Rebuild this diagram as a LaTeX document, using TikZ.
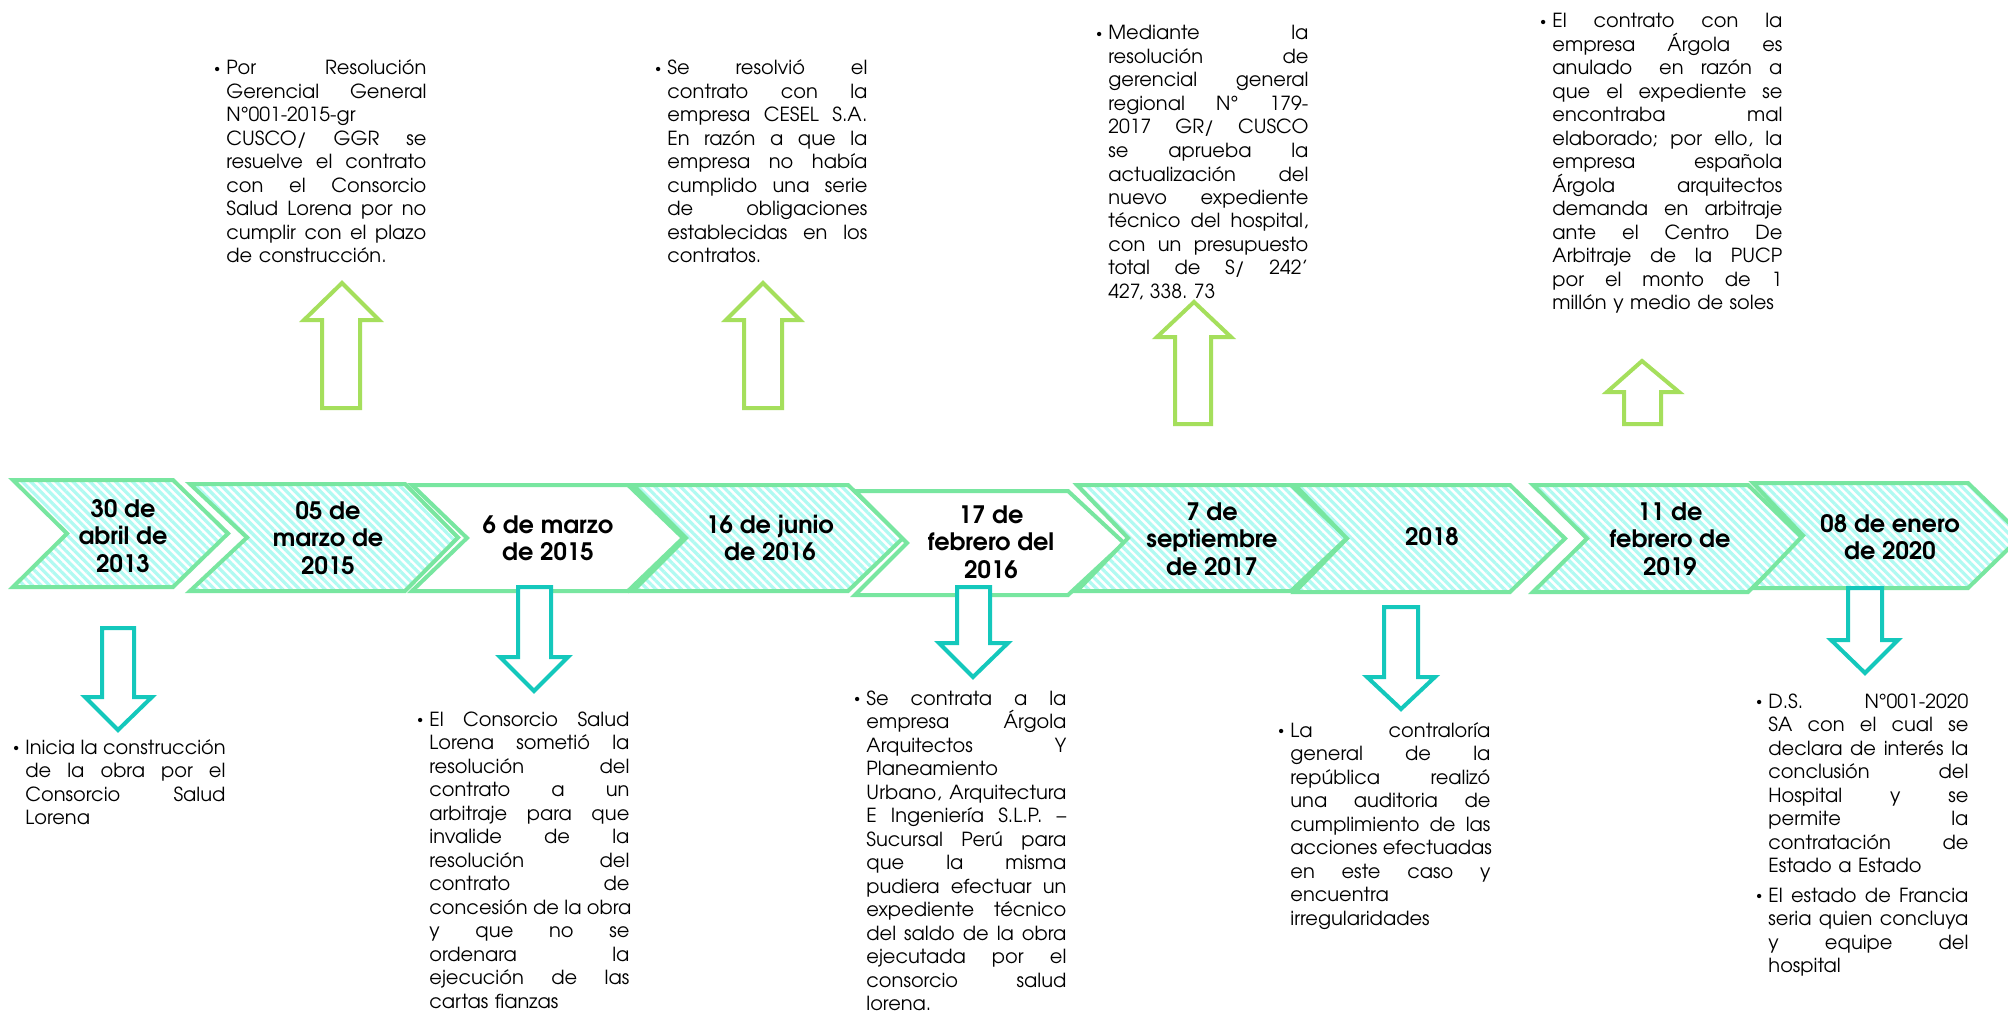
\documentclass[tikz,border=0pt]{standalone}
\usepackage{fontspec}
\setmainfont{TeX Gyre Adventor}
\usetikzlibrary{patterns.meta}
\frenchspacing

\definecolor{chevline}{RGB}{120,230,160}
\definecolor{hatchcol}{RGB}{176,250,242}
\definecolor{upcol}{RGB}{165,223,92}
\definecolor{downcol}{RGB}{20,200,188}

\tikzset{
  chevplain/.style={draw=chevline, line width=2pt, fill=white},
  chevhatch/.style={draw=chevline, line width=2pt, preaction={fill=white},
    pattern={Lines[angle=-45,distance=3pt,line width=1.6pt]}, pattern color=hatchcol},
  uparrow/.style={draw=upcol, line width=2pt, fill=white},
  downarrow/.style={draw=downcol, line width=2pt, fill=white},
  datetext/.style={inner sep=0pt, align=center, font=\fontsize{12pt}{13.7pt}\selectfont\bfseries},
  bodytext/.style={anchor=base west, inner sep=0pt, text width=100pt, align=left,
    font=\fontsize{9.7pt}{11.75pt}\selectfont},
}

% one justified line (spaces stretch to fill the width), one final line, and the hanging bullet
\newcommand\jline[1]{\hbox to\hsize{\spaceskip=0.28em plus 1fil\relax #1}}
\newcommand\eline[1]{\hbox to\hsize{#1\hfil}}
\newcommand\bul{\llap{\raisebox{1.2pt}{\fontsize{6pt}{6pt}\selectfont\textbullet}\hspace{3pt}}}

% chevron: style, left x, notch x, right x, tip x, top y, bottom y
\newcommand\tlChev[7]{\draw[#1] (#2,#6) -- (#4,#6) -- (#5,{(#6+#7)/2}) -- (#4,#7) -- (#2,#7) -- (#3,{(#6+#7)/2}) -- cycle;}
% block arrow: style, tip x, tip y, head left, head right, shaft left, shaft right, head base y, tail y
\newcommand\tlArrow[9]{\draw[#1] (#2,#3) -- (#5,#8) -- (#7,#8) -- (#7,#9) -- (#6,#9) -- (#6,#8) -- (#4,#8) -- cycle;}

\begin{document}
\begin{tikzpicture}[x=0.5pt, y=-0.5pt]
\useasboundingbox (0,0) rectangle (2008,1011);
\fill[white] (0,0) rectangle (2008,1011);
\clip (0,0) rectangle (2008,1011);

% timeline chevrons
\tlChev{chevhatch}{13}{67}{173}{228}{480}{587}
\tlChev{chevhatch}{190}{247}{405}{458}{484}{591}
\tlChev{chevplain}{412}{467}{628}{683}{485}{591}
\tlChev{chevhatch}{633}{686}{848}{903}{485}{591}
\tlChev{chevplain}{855}{907}{1068}{1124}{491}{595}
\tlChev{chevhatch}{1077}{1128}{1291}{1347}{485}{591}
\tlChev{chevhatch}{1295}{1347}{1510}{1565}{485}{592}
\tlChev{chevhatch}{1533}{1587}{1748}{1803}{485}{592}
\tlChev{chevhatch}{1753}{1803}{1968}{2022}{483}{588}

% arrows up to the upper notes
\tlArrow{uparrow}{342}{283}{304}{379}{322}{360}{320}{408}
\tlArrow{uparrow}{763}{283}{726}{800}{744}{782}{320}{408}
\tlArrow{uparrow}{1194}{302}{1157}{1231}{1175}{1211}{337}{424}
\tlArrow{uparrow}{1642}{361}{1607}{1679}{1624}{1661}{392}{424}

% arrows down to the lower notes
\tlArrow{downarrow}{118}{730}{85}{152}{102}{134}{697}{628}
\tlArrow{downarrow}{534}{691}{500}{568}{518}{551}{657}{587}
\tlArrow{downarrow}{973}{677}{939}{1008}{957}{990}{643}{587}
\tlArrow{downarrow}{1401}{709}{1367}{1435}{1384}{1418}{677}{607}
\tlArrow{downarrow}{1865}{673}{1831}{1898}{1848}{1882}{640}{588}

% dates
\node[datetext] (d1) at (123,536) {30 de\\abril de\\2013};
\node[datetext] (d2) at (328,538) {05 de\\marzo de\\2015};
\node[datetext] (d3) at (548,538) {6 de marzo\\de 2015};
\node[datetext] (d4) at (770,538) {16 de junio\\de 2016};
\node[datetext] (d5) at (991,542) {17 de\\febrero del\\2016};
\node[datetext] (d6) at (1212,539) {7 de\\septiembre\\de 2017};
\node[datetext] (d7) at (1432,537) {2018};
\node[datetext] (d8) at (1670,539) {11 de\\febrero de\\2019};
\node[datetext] (d9) at (1890,537) {08 de enero\\de 2020};

% upper notes
\node[bodytext] (n1) at (226,75) {%
\jline{\bul Por Resolución}
\jline{Gerencial General}
\eline{N°001-2015-gr}
\jline{CUSCO/ GGR se}
\jline{resuelve el contrato}
\jline{con el Consorcio}
\jline{Salud Lorena por no}
\jline{cumplir con el plazo}
\eline{de construcción.}};

\node[bodytext] (n2) at (667,75) {%
\jline{\bul Se resolvió el}
\jline{contrato con la}
\jline{empresa CESEL S.A.}
\jline{En razón a que la}
\jline{empresa no había}
\jline{cumplido una serie}
\jline{de obligaciones}
\jline{establecidas en los}
\eline{contratos.}};

\node[bodytext] (n3) at (1108,40) {%
\jline{\bul Mediante la}
\jline{resolución de}
\jline{gerencial general}
\jline{regional N° 179-}
\jline{2017 GR/ CUSCO}
\jline{se aprueba la}
\jline{actualización del}
\jline{nuevo expediente}
\jline{técnico del hospital,}
\jline{con un presupuesto}
\jline{total de S/ 242’}
\eline{427, 338. 73}};

\node[bodytext, text width=115pt] (n4) at (1552,28) {%
\jline{\bul El contrato con la}
\jline{empresa Árgola es}
\jline{anulado\hspace{0.5em} en razón a}
\jline{que el expediente se}
\jline{encontraba mal}
\jline{elaborado; por ello, la}
\jline{empresa española}
\jline{Árgola arquitectos}
\jline{demanda en arbitraje}
\jline{ante el Centro De}
\jline{Arbitraje de la PUCP}
\jline{por el monto de 1}
\eline{millón y medio de soles}};

% lower notes
\node[bodytext] (n5) at (25,754) {%
\jline{\bul Inicia la construcción}
\jline{de la obra por el}
\jline{Consorcio Salud}
\eline{Lorena}};

\node[bodytext] (n6) at (429,726) {%
\jline{\bul El Consorcio Salud}
\jline{Lorena sometió la}
\jline{resolución del}
\jline{contrato a un}
\jline{arbitraje para que}
\jline{invalide de la}
\jline{resolución del}
\jline{contrato de}
\jline{concesión de la obra}
\jline{y que no se}
\jline{ordenara la}
\jline{ejecución de las}
\eline{cartas fianzas}};

\node[bodytext] (n7) at (866,705) {%
\jline{\bul Se contrata a la}
\jline{empresa Árgola}
\jline{Arquitectos Y}
\eline{Planeamiento}
\jline{Urbano, Arquitectura}
\jline{E Ingeniería S.L.P. –}
\jline{Sucursal Perú para}
\jline{que la misma}
\jline{pudiera efectuar un}
\jline{expediente técnico}
\jline{del saldo de la obra}
\jline{ejecutada por el}
\jline{consorcio salud}
\eline{lorena.}};

\node[bodytext] (n8) at (1290,737) {%
\jline{\bul La contraloría}
\jline{general de la}
\jline{república realizó}
\jline{una auditoria de}
\jline{cumplimiento de las}
\jline{acciones efectuadas}
\jline{en este caso y}
\eline{encuentra}
\eline{irregularidades}};

\node[bodytext] (n9) at (1768,708) {%
\jline{\bul D.S. N°001-2020}
\jline{SA con el cual se}
\jline{declara de interés la}
\jline{conclusión del}
\jline{Hospital y se}
\jline{permite la}
\jline{contratación de}
\eline{Estado a Estado}};

\node[bodytext] (n10) at (1768,902) {%
\jline{\bul El estado de Francia}
\jline{seria quien concluya}
\jline{y equipe del}
\eline{hospital}};
\end{tikzpicture}
\end{document}
